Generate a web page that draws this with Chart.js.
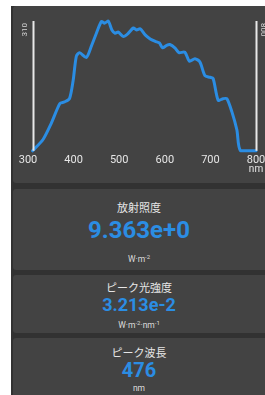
<!DOCTYPE html>
<html>
<head>
<meta charset="utf-8">
<script src="https://cdn.jsdelivr.net/npm/chart.js@4/dist/chart.umd.min.js"></script>
<style>
  html, body { margin: 0; padding: 0; background: #fff; width: 265px; height: 395px; overflow: hidden; }
  body { position: relative; font-family: Roboto, "Noto Sans CJK JP", sans-serif; }
  .panel { position: absolute; left: 11px; top: 6px; width: 254px; height: 389px; background: #323232; }
  .card { position: absolute; left: 13px; width: 252px; background: #434343; border-radius: 3px 0 0 3px; overflow: hidden; }
  .chart-card { top: 6px; height: 177px; }
  .chart-card canvas { position: absolute; left: 0; top: 0; }
  .line { position: absolute; left: 0; width: 252px; text-align: center; white-space: nowrap; }
  .title { font-family: "Noto Sans CJK JP", sans-serif; font-size: 11px; color: #e6e6e6; height: 14px; line-height: 14px; }
  .value { font-weight: bold; color: #2b8de3; }
  .unit { font-size: 8.5px; color: #dcdcdc; height: 10px; line-height: 10px; }
  sup { font-size: 6px; vertical-align: 3px; }
</style>
</head>
<body>
<div class="panel"></div>
<div class="card chart-card"><canvas id="spectrum" width="272" height="177"></canvas></div>

<div class="card" style="top:189px;height:81px;">
  <div class="line title" style="top:11px;">放射照度</div>
  <div class="line value" style="top:27px;font-size:24px;height:28px;line-height:28px;">9.363e+0</div>
  <div class="line unit" style="top:63px;">W·m<sup>-2</sup></div>
</div>
<div class="card" style="top:275px;height:58px;">
  <div class="line title" style="top:5px;">ピーク光強度</div>
  <div class="line value" style="top:20px;font-size:18px;height:20px;line-height:20px;">3.213e-2</div>
  <div class="line unit" style="top:43px;">W·m<sup>-2</sup>·nm<sup>-1</sup></div>
</div>
<div class="card" style="top:338px;height:60px;">
  <div class="line title" style="top:7px;">ピーク波長</div>
  <div class="line value" style="top:21px;font-size:20px;height:22px;line-height:22px;">476</div>
  <div class="line unit" style="top:45px;">nm</div>
</div>

<script>
'use strict';

// spectrum (nm, mW·m⁻²·nm⁻¹)
var wavelengths = [310, 333, 351, 370, 380, 391, 399, 406, 413, 428, 439, 450, 461, 468, 476,
    484, 491, 498, 509, 520, 531, 538, 546, 557, 568, 579, 588, 595, 604, 611, 622, 631,
    644, 654, 666, 677, 688, 699, 706, 717, 728, 736, 747, 758, 766, 800];
var intensity = [0, 2.8, 6.8, 11.7, 12.1, 12.9, 17.4, 23.4, 24.3, 23.1, 25.9, 29.1, 32.0, 31.6, 32.13,
    29.9, 29.1, 29.4, 28.3, 29.1, 30.4, 29.9, 30.2, 28.7, 27.7, 27.1, 26.7, 25.5, 26.1, 26.3, 25.5, 24.3,
    24.4, 22.2, 22.8, 22.0, 18.6, 18.2, 17.9, 12.5, 12.9, 12.9, 9.7, 5.2, 0, 0];

var xTicks = [300, 400, 500, 600, 700, 800];
var rangeMarkers = [310, 800];
var axisUnit = 'nm';

/* white range bars at the ends of the measured band, plus their labels */
var markerPlugin = {
    id: 'rangeMarkers',
    afterDatasetsDraw: function (chart) {
        var ctx = chart.ctx, area = chart.chartArea, xs = chart.scales.x;
        ctx.save();
        ctx.strokeStyle = '#e8e8e8';
        ctx.fillStyle = '#d8d8d8';
        ctx.lineWidth = 2;
        ctx.font = '8px Roboto, sans-serif';
        ctx.textBaseline = 'middle';
        rangeMarkers.forEach(function (wl, i) {
            var px = Math.round(xs.getPixelForValue(wl)) + 0.5;
            ctx.beginPath();
            ctx.moveTo(px, area.top);
            ctx.lineTo(px, area.bottom);
            ctx.stroke();

            ctx.save();
            if (i === 0) {
                ctx.translate(px - 9, area.top + 2);
                ctx.rotate(-Math.PI / 2);
                ctx.textAlign = 'right';
            } else {
                ctx.translate(px + 6, area.top + 2);
                ctx.rotate(Math.PI / 2);
                ctx.textAlign = 'left';
            }
            ctx.fillText(String(wl), 0, 0);
            ctx.restore();
        });

        // unit under the last tick
        ctx.fillStyle = '#e6e6e6';
        ctx.font = '10px Roboto, sans-serif';
        ctx.textAlign = 'center';
        ctx.fillText(axisUnit, xs.getPixelForValue(xTicks[xTicks.length - 1]), area.bottom + 19);
        ctx.restore();
    }
};

new Chart(document.getElementById('spectrum').getContext('2d'), {
    type: 'line',
    data: {
        datasets: [{
            data: wavelengths.map(function (w, i) { return { x: w, y: intensity[i] }; }),
            borderColor: '#2b8de3',
            borderWidth: 3,
            borderJoinStyle: 'round',
            borderCapStyle: 'round',
            pointRadius: 0,
            tension: 0.25,
            fill: false,
            clip: false,
        }],
    },
    options: {
        responsive: false,
        animation: false,
        events: [],
        layout: { padding: { left: 15, right: 29, top: 15, bottom: 13 } },
        plugins: { legend: { display: false }, tooltip: { enabled: false } },
        scales: {
            x: {
                type: 'linear',
                min: xTicks[0],
                max: xTicks[xTicks.length - 1],
                grid: { display: false, drawTicks: false },
                border: { display: false },
                afterBuildTicks: function (axis) {
                    axis.ticks = xTicks.map(function (v) { return { value: v }; });
                },
                ticks: {
                    color: '#e6e6e6',
                    font: { family: 'Roboto', size: 11 },
                    padding: 3,
                    maxRotation: 0,
                    autoSkip: false,
                },
            },
            y: {
                display: false,
                min: 0,
                max: 32.13,
            },
        },
    },
    plugins: [markerPlugin],
});
</script>
</body>
</html>
